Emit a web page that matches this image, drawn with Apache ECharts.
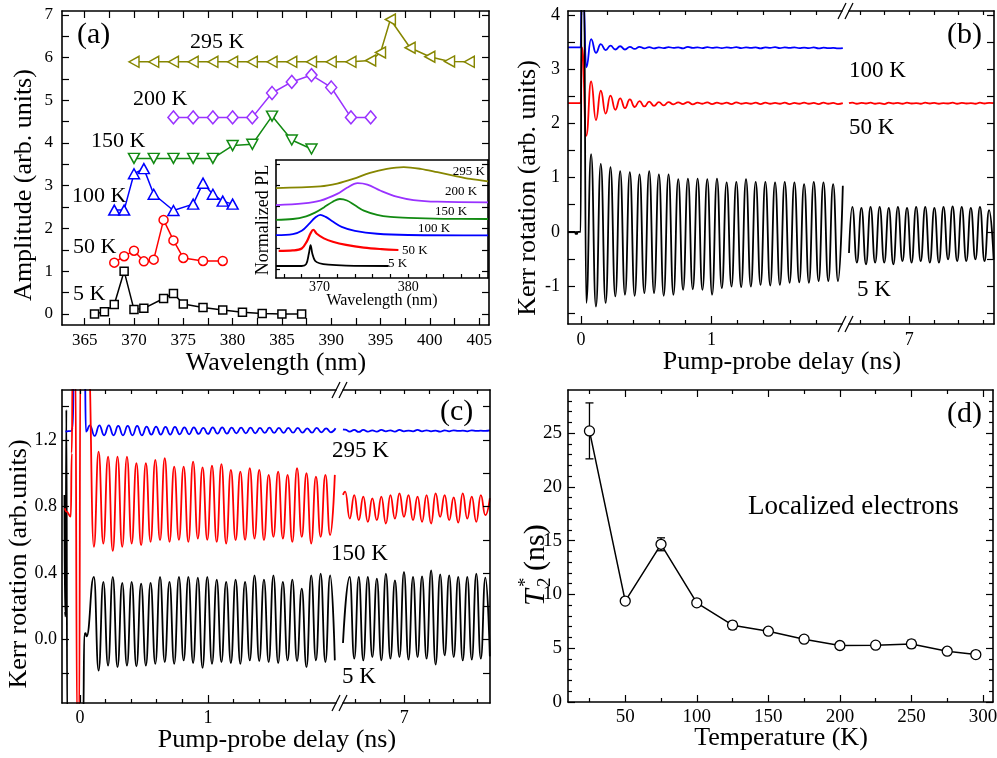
<!DOCTYPE html>
<html>
<head>
<meta charset="utf-8">
<script src="https://cdn.jsdelivr.net/npm/echarts@6/dist/echarts.min.js"></script>
<style>
  html, body { margin: 0; padding: 0; background: #fff; }
  #chart { width: 997px; height: 758px; }
</style>
</head>
<body>
<div id="chart"></div>
<script>
const FONT = "'Liberation Serif', 'Times New Roman', serif";

// ---------- (a) spin-beat amplitude vs excitation wavelength ----------
const wl5K    = [366, 367, 368, 369, 370, 371, 373, 374, 375, 377, 379, 381, 383, 385, 387];
const amp5K   = [0.00, 0.05, 0.22, 1.00, 0.10, 0.13, 0.36, 0.48, 0.23, 0.15, 0.09, 0.04, 0.01, 0.00, 0.00];
const wl50K   = [368, 369, 370, 371, 372, 373, 374, 375, 377, 379];
const amp50K  = [1.20, 1.35, 1.48, 1.23, 1.27, 2.20, 1.72, 1.31, 1.24, 1.24];
const wl100K  = [368, 369, 370, 371, 372, 374, 376, 377, 378, 379, 380];
const amp100K = [2.43, 2.43, 3.28, 3.40, 2.80, 2.42, 2.57, 3.06, 2.80, 2.64, 2.57];
const wl150K  = [370, 372, 374, 376, 378, 380, 382, 384, 386, 388];
const amp150K = [3.64, 3.64, 3.64, 3.64, 3.64, 3.94, 3.97, 4.63, 4.07, 3.86];
const wl200K  = [374, 376, 378, 380, 382, 384, 386, 388, 390, 392, 394];
const amp200K = [4.60, 4.60, 4.60, 4.60, 4.60, 5.17, 5.43, 5.59, 5.30, 4.60, 4.60];
const wl295K  = [370, 372, 374, 376, 378, 380, 382, 384, 386, 388, 390, 392, 394, 395, 396, 398, 400, 402, 404];
const amp295K = [5.90, 5.90, 5.90, 5.90, 5.90, 5.90, 5.90, 5.90, 5.90, 5.90, 5.90, 5.90, 5.93, 6.12, 6.89, 6.23, 6.02, 5.91, 5.90];

const aXLabels = [365, 370, 375, 380, 385, 390, 395, 400, 405];
const aXTicks  = [365, 367.5, 370, 372.5, 375, 377.5, 380, 382.5, 385, 387.5, 390, 392.5, 395, 397.5, 400, 402.5, 405];
const aYLabels = [0, 1, 2, 3, 4, 5, 6, 7];
const aYTicks  = [0, 0.5, 1, 1.5, 2, 2.5, 3, 3.5, 4, 4.5, 5, 5.5, 6, 6.5, 7];

// inset: normalized PL spectra (offset), [wavelength nm, value]
const pl5K   = [[365.1, 0.57], [368.0, 0.57], [368.5, 0.66], [368.8, 1.15], [369.0, 1.56], [369.2, 1.15], [369.5, 0.82], [370.0, 0.70], [371.0, 0.63], [373.0, 0.59], [377.8, 0.57]];
const pl50K  = [[365.4, 1.29], [367.0, 1.31], [368.0, 1.40], [368.6, 1.75], [369.0, 2.12], [369.3, 2.29], [369.7, 2.10], [370.5, 1.88], [371.5, 1.72], [373.0, 1.57], [375.0, 1.44], [377.0, 1.37], [378.9, 1.33]];
const pl100K = [[365.1, 2.03], [367.0, 2.08], [368.0, 2.24], [368.8, 2.56], [369.5, 2.86], [370.1, 3.00], [370.7, 2.90], [371.5, 2.68], [372.5, 2.43], [374.0, 2.24], [376.5, 2.10], [380.0, 2.04], [389.0, 2.02]];
const pl150K = [[365.1, 2.76], [367.0, 2.80], [368.5, 2.93], [369.5, 3.10], [370.5, 3.35], [371.5, 3.62], [372.3, 3.75], [373.1, 3.68], [374.0, 3.45], [375.0, 3.20], [376.5, 3.00], [378.0, 2.90], [380.0, 2.85], [384.0, 2.81], [389.0, 2.80]];
const pl200K = [[365.1, 3.46], [368.2, 3.54], [370.1, 3.67], [372.0, 3.99], [373.1, 4.28], [374.3, 4.50], [375.4, 4.43], [376.9, 4.14], [378.7, 3.86], [380.6, 3.70], [383.3, 3.62], [389.0, 3.59]];
const pl295K = [[365.1, 4.27], [370.1, 4.35], [372.0, 4.48], [373.8, 4.70], [375.7, 4.99], [377.6, 5.18], [379.5, 5.26], [381.4, 5.18], [383.3, 5.02], [385.1, 4.86], [387.0, 4.70], [389.0, 4.59]];
const inXLabels = [370, 380];
const inXTicks  = [366, 368, 370, 372, 374, 376, 378, 380, 382, 384, 386, 388];
const inYTicks  = [0.4, 1.4, 2.4, 3.4, 4.4, 5.4];

// ---------- (b) Kerr rotation transients, 5 / 50 / 100 K ----------
// leading parts as [delay ns, value]; oscillations listed extremum by extremum
const bFirst = 0.040, bHalf = 0.0371, bLateFirst = 6.537;
const kerrB5Lead = [[-0.10, 0], [-0.046, 0], [-0.041, -0.04], [-0.036, 0], [-0.031, -0.04], [-0.026, 0], [-0.003, 0], [0.004, 4.6], [0.022, 4.6]];
const kerrB5Early = [-1.31, 1.43, -1.38, 1.25, -1.31, 1.19, -1.19, 1.12, -1.16, 1.10, -1.18, 1.06, -1.13, 1.12, -1.13, 1.06, -1.18, 1.06,
  -1.16, 0.97, -1.07, 0.98, -1.06, 0.98, -1.07, 0.97, -1.16, 0.98, -1.04, 0.91, -1.01, 0.92, -1.02, 0.97, -1.01, 0.92,
  -0.98, 0.92, -0.99, 0.91, -0.98, 0.92, -0.94, 0.91, -0.93, 0.88, -0.94, 0.92, -0.91, 0.91, -0.91, 0.88, -0.91, 0.85];
const kerrB5LateLead = [[6.51, -0.39]];
const kerrB5Late = [0.46, -0.57, 0.44, -0.60, 0.46, -0.57, 0.46, -0.57, 0.44, -0.60, 0.46, -0.54, 0.44, -0.57, 0.46, -0.54,
  0.46, -0.57, 0.44, -0.57, 0.46, -0.51, 0.47, -0.54, 0.46, -0.54, 0.44, -0.51, 0.46, -0.54, 0.40, -0.51];

const kerrB50Lead = [[-0.10, 2.37], [-0.003, 2.37], [0.008, 3.40]];
const kerrB50Early = [1.77, 2.77, 2.06, 2.60, 2.18, 2.51, 2.25, 2.46, 2.28, 2.44, 2.30, 2.41, 2.31, 2.40, 2.32, 2.39, 2.33, 2.39,
  2.35, 2.385, 2.355, 2.39, 2.35, 2.38, 2.36, 2.385, 2.355, 2.38, 2.36, 2.38, 2.355, 2.385, 2.36, 2.375, 2.36, 2.38,
  2.355, 2.38, 2.36, 2.375, 2.36, 2.38, 2.355, 2.375, 2.36, 2.38, 2.36, 2.375, 2.355, 2.38, 2.36, 2.375, 2.355, 2.37];
const kerrB50LateLead = [[6.51, 2.37]];
const kerrB50Late = [2.38, 2.36, 2.375, 2.365, 2.38, 2.36, 2.37, 2.355, 2.38, 2.365, 2.375, 2.36, 2.38, 2.365, 2.37, 2.36,
  2.38, 2.365, 2.375, 2.36, 2.37, 2.365, 2.38, 2.36, 2.375, 2.365, 2.37, 2.36, 2.38, 2.365, 2.375, 2.37];

const kerrB100Lead = [[-0.10, 3.40], [-0.003, 3.40], [0.005, 4.4], [0.017, 4.4]];
const kerrB100Early = [3.03, 3.55, 3.30, 3.46, 3.35, 3.43, 3.36, 3.42, 3.36, 3.41, 3.37, 3.41, 3.38, 3.405, 3.38, 3.40,
  3.385, 3.405, 3.39, 3.40, 3.38, 3.41, 3.39, 3.40, 3.385, 3.405, 3.39, 3.40, 3.385, 3.40, 3.39, 3.405, 3.385, 3.40,
  3.39, 3.40, 3.38, 3.40, 3.39, 3.405, 3.385, 3.40, 3.39, 3.40, 3.385, 3.395, 3.385, 3.40, 3.38, 3.395, 3.385, 3.39, 3.38, 3.385];

const bYLabels = [-1, 0, 1, 2, 3, 4];
const bYTicks  = [-1.5, -1, -0.5, 0, 0.5, 1, 1.5, 2, 2.5, 3, 3.5, 4];

// ---------- (c) Kerr rotation transients, 5 / 150 / 295 K ----------
const cFirst = 0.109, cHalf = 0.0369, cLateFirst = 6.555, c295First = 0.078, cLateRedFirst = 6.518;
const kerrC5Lead = [[-0.121, 0.87], [-0.117, 0.17], [-0.112, 0.14], [-0.106, 1.38], [-0.099, -0.5], [0.026, -0.5], [0.034, 0.03], [0.044, 0.04], [0.052, 0.02]];
const kerrC5Early = [0.377, -0.185, 0.347, -0.155, 0.377, -0.165, 0.341, -0.155, 0.347, -0.160, 0.337, -0.155, 0.341, -0.145,
  0.377, -0.134, 0.347, -0.145, 0.377, -0.124, 0.377, -0.140, 0.373, -0.169, 0.377, -0.145, 0.361, -0.134, 0.347, -0.140,
  0.361, -0.145, 0.347, -0.124, 0.387, -0.128, 0.361, -0.134, 0.387, -0.140, 0.347, -0.124, 0.361, -0.128, 0.307, -0.165,
  0.387, -0.124, 0.397, -0.134, 0.387, -0.124];
const kerrC5LateLead = [[6.50, -0.02]];
const kerrC5Late = [0.377, -0.114, 0.377, -0.124, 0.377, -0.104, 0.367, -0.124, 0.397, -0.114, 0.357, -0.104, 0.407, -0.120,
  0.377, -0.104, 0.381, -0.114, 0.417, -0.149, 0.393, -0.094, 0.387, -0.104, 0.377, -0.124, 0.377, -0.120, 0.397, -0.114, 0.373, -0.100];

const kerrC150Lead = [[-0.118, 0.79], [-0.105, 0.77], [-0.071, 0.74], [-0.064, 1.12], [-0.056, 1.7], [-0.036, 1.7], [-0.022, -0.5], [-0.006, -0.5], [0.004, 1.7], [0.066, 1.7]];
const kerrC150Early = [0.558, 1.13, 0.578, 1.10, 0.534, 1.10, 0.558, 1.10, 0.578, 1.06, 0.568, 1.06, 0.588, 1.08, 0.598, 1.09,
  0.588, 1.04, 0.600, 1.04, 0.588, 1.07, 0.608, 1.035, 0.600, 1.045, 0.588, 1.055, 0.578, 1.02, 0.598, 1.01, 0.600, 1.03,
  0.608, 1.02, 0.598, 0.99, 0.618, 1.01, 0.608, 0.99, 0.588, 1.03, 0.618, 1.00, 0.578, 0.98, 0.618, 0.99, 0.628, 0.99];
const kerrC150LateLead = [[6.50, 0.87]];
const kerrC150Late = [0.89, 0.728, 0.869, 0.718, 0.859, 0.708, 0.849, 0.718, 0.859, 0.698, 0.869, 0.728, 0.879, 0.738, 0.869, 0.718,
  0.859, 0.708, 0.869, 0.698, 0.879, 0.738, 0.869, 0.718, 0.855, 0.704, 0.879, 0.728, 0.859, 0.708, 0.869, 0.748, 0.85];

const kerrC295Lead = [[-0.113, 1.25], [-0.066, 1.255], [-0.056, 1.275], [-0.046, 1.7], [0.037, 1.7], [0.047, 1.25]];
const kerrC295Early = [1.288, 1.224, 1.288, 1.228, 1.288, 1.228, 1.284, 1.228, 1.284, 1.228, 1.284, 1.228, 1.280, 1.232, 1.280, 1.232,
  1.278, 1.232, 1.278, 1.234, 1.276, 1.234, 1.276, 1.236, 1.272, 1.236, 1.276, 1.238, 1.276, 1.238, 1.274, 1.240, 1.274, 1.240,
  1.274, 1.240, 1.272, 1.242, 1.274, 1.242, 1.272, 1.242, 1.272, 1.244, 1.272, 1.244, 1.270, 1.244, 1.272, 1.246, 1.270, 1.246, 1.270];
const kerrC295LateLead = [[6.50, 1.264]];
const kerrC295Late = [1.262, 1.250, 1.260, 1.248, 1.260, 1.250, 1.258, 1.250, 1.260, 1.252, 1.258, 1.250, 1.260, 1.252, 1.256, 1.252,
  1.260, 1.252, 1.258, 1.252, 1.256, 1.250, 1.258, 1.252, 1.258, 1.254, 1.256, 1.252, 1.258, 1.254, 1.256, 1.254, 1.257];

const cYLabels = [0, 0.4, 0.8, 1.2];
const cYTicks  = [-0.2, 0, 0.2, 0.4, 0.6, 0.8, 1.0, 1.2, 1.4];

// delay axis ticks shared by (b) and (c)
const delayEarlyLabels = [0, 1];
const delayEarlyMinor  = [0.2, 0.4, 0.6, 0.8, 1.2, 1.4, 1.6, 1.8];
const delayEarlyAll    = [0, 0.2, 0.4, 0.6, 0.8, 1.0, 1.2, 1.4, 1.6, 1.8];
const delayLateLabels  = [7];
const delayLateMinor   = [6.6, 6.8, 7.2, 7.4, 7.6];
const delayLateAll     = [6.6, 6.8, 7.0, 7.2, 7.4, 7.6];

// ---------- (d) T2* vs temperature ----------
const tempK  = [25, 50, 75, 100, 125, 150, 175, 200, 225, 250, 275, 295];
const t2star = [25.2, 9.38, 14.66, 9.22, 7.14, 6.58, 5.84, 5.25, 5.28, 5.40, 4.72, 4.41];
const t2err  = [2.6, 0.2, 0.6, 0.2, 0.35, 0.2, 0.3, 0.15, 0.15, 0.35, 0.25, 0.15];
const dXLabels = [50, 100, 150, 200, 250, 300];
const dXMinor  = [25, 75, 125, 175, 225, 275];
const dYLabels = [0, 5, 10, 15, 20, 25];
const dYMinor  = [1, 2, 3, 4, 6, 7, 8, 9, 11, 12, 13, 14, 16, 17, 18, 19, 21, 22, 23, 24, 26, 27, 28];

// colours
const BLACK = '#000000', RED = '#ff0000', BLUE = '#0000ff', GREEN = '#128a12', PURPLE = '#9932ff', OLIVE = '#868600';

// ---------- layout ----------
const G = {
  a:  { left: 62,  top: 11,  width: 427, height: 314 },
  ai: { left: 276, top: 160, width: 212, height: 118 },
  b1: { left: 568, top: 11,  width: 274, height: 313 },
  b2: { left: 849, top: 11,  width: 145, height: 313 },
  c1: { left: 62,  top: 390, width: 274, height: 313 },
  c2: { left: 343, top: 390, width: 147, height: 313 },
  d:  { left: 568, top: 390, width: 425, height: 312 }
};
const gridOrder = ['a', 'ai', 'b1', 'b2', 'c1', 'c2', 'd'];
const gi = k => gridOrder.indexOf(k);

const xAxis = [], yAxis = [];
function addAxis(list, grid, pos, min, max, o) {
  list.push({
    type: 'value', gridIndex: gi(grid), position: pos, min, max, offset: 0,
    axisLine: { show: !!o.line, onZero: false, lineStyle: { color: '#000', width: 1.6 } },
    axisTick: { show: !!o.ticks, inside: true, length: o.len || 7, customValues: o.ticks, lineStyle: { color: '#000', width: 1.2 } },
    axisLabel: {
      show: !!o.labels, customValues: o.labels, color: '#000', fontFamily: FONT,
      fontSize: o.size || 18, margin: o.margin == null ? 8 : o.margin,
      formatter: o.fmt || (v => String(v))
    },
    splitLine: { show: false }, minorTick: { show: false }, axisPointer: { show: false }, silent: true, z: 5
  });
  return list.length - 1;
}

// (a) main
const aX = addAxis(xAxis, 'a', 'bottom', 362.7, 406, { line: true, ticks: aXTicks, labels: aXLabels, size: 17, margin: 7 });
addAxis(xAxis, 'a', 'top', 362.7, 406, { line: true, ticks: aXTicks });
const aY = addAxis(yAxis, 'a', 'left', -0.26, 7.09, { line: true, ticks: aYTicks, labels: aYLabels, size: 17, margin: 9 });
addAxis(yAxis, 'a', 'right', -0.26, 7.09, { line: true, ticks: aYTicks });
// inset
const inX = addAxis(xAxis, 'ai', 'bottom', 365.1, 389, { line: true, ticks: inXTicks, labels: inXLabels, size: 14, margin: 2, len: 4 });
addAxis(xAxis, 'ai', 'top', 365.1, 389, { line: true });
const inY = addAxis(yAxis, 'ai', 'left', 0, 5.6, { line: true, ticks: inYTicks, len: 4 });
addAxis(yAxis, 'ai', 'right', 0, 5.6, { line: true });

// broken delay axes: early + late segment per panel
function delayAxes(g1, g2, yMin, yMax, yLabels, yTicks, yFmt, yMargin, xMargin) {
  const seg1 = G[g1], seg2 = G[g2];
  const x1min = g1 === 'b1' ? -0.10 : -0.14, x1max = 2.0;
  const x2min = g1 === 'b1' ? 6.51 : 6.50, x2max = g1 === 'b1' ? 7.69 : 7.70;
  const x1 = addAxis(xAxis, g1, 'bottom', x1min, x1max, { line: true, ticks: delayEarlyLabels, labels: delayEarlyLabels, len: 8, margin: xMargin });
  addAxis(xAxis, g1, 'bottom', x1min, x1max, { ticks: delayEarlyMinor, len: 4 });
  addAxis(xAxis, g1, 'top', x1min, x1max, { line: true, ticks: delayEarlyAll, len: 4 });
  const y1 = addAxis(yAxis, g1, 'left', yMin, yMax, { line: true, ticks: yTicks, labels: yLabels, fmt: yFmt, margin: yMargin });
  const x2 = addAxis(xAxis, g2, 'bottom', x2min, x2max, { line: true, ticks: delayLateLabels, labels: delayLateLabels, len: 8, margin: xMargin });
  addAxis(xAxis, g2, 'bottom', x2min, x2max, { ticks: delayLateMinor, len: 4 });
  addAxis(xAxis, g2, 'top', x2min, x2max, { line: true, ticks: delayLateAll, len: 4 });
  const y2 = addAxis(yAxis, g2, 'right', yMin, yMax, { line: true, ticks: yTicks });
  return { x1, y1, x2, y2 };
}
const bAx = delayAxes('b1', 'b2', -1.7, 4.07, bYLabels, bYTicks, null, 8, 7);
const cAx = delayAxes('c1', 'c2', -0.38, 1.5, cYLabels, cYTicks, v => v.toFixed(1), 5, 6);

// (d)
const dX = addAxis(xAxis, 'd', 'bottom', 10, 307, { line: true, ticks: dXLabels, labels: dXLabels, margin: 6, size: 19 });
addAxis(xAxis, 'd', 'bottom', 10, 307, { ticks: dXMinor, len: 4 });
addAxis(xAxis, 'd', 'top', 10, 307, { line: true, ticks: dXLabels });
addAxis(xAxis, 'd', 'top', 10, 307, { ticks: dXMinor, len: 4 });
const dY = addAxis(yAxis, 'd', 'left', 0, 29, { line: true, ticks: dYLabels, labels: dYLabels, margin: 6, size: 19 });
addAxis(yAxis, 'd', 'left', 0, 29, { ticks: dYMinor, len: 4 });
addAxis(yAxis, 'd', 'right', 0, 29, { line: true, ticks: dYLabels });
addAxis(yAxis, 'd', 'right', 0, 29, { ticks: dYMinor, len: 4 });

// ---------- series ----------
const pairs = (xs, ys) => xs.map((x, i) => [x, ys[i]]);
const extrema = (first, step, vals) => vals.map((v, i) => [first + i * step, v]);

function ampSeries(wl, amp, color, symbol, size, rot) {
  return {
    type: 'line', xAxisIndex: aX, yAxisIndex: aY, data: pairs(wl, amp),
    symbol, symbolSize: size, symbolRotate: rot || 0, showAllSymbol: true,
    lineStyle: { color, width: 1.5 }, itemStyle: { color: '#fff', borderColor: color, borderWidth: 1.5 }, z: 4
  };
}
function plSeries(data, color, width) {
  return { type: 'line', xAxisIndex: inX, yAxisIndex: inY, data, symbol: 'none', smooth: 0.35,
    lineStyle: { color, width: width || 1.8 }, z: 6 };
}
function trace(ax, seg, data, color) {
  return {
    type: 'line', xAxisIndex: seg === 1 ? ax.x1 : ax.x2, yAxisIndex: seg === 1 ? ax.y1 : ax.y2,
    data, symbol: 'none', smooth: 0.5, smoothMonotone: 'x', clip: true,
    lineStyle: { color, width: 1.8 }, z: 3
  };
}

const series = [
  ampSeries(wl5K, amp5K, BLACK, 'rect', 8),
  ampSeries(wl50K, amp50K, RED, 'circle', 9),
  ampSeries(wl100K, amp100K, BLUE, 'triangle', [11, 10]),
  ampSeries(wl150K, amp150K, GREEN, 'triangle', [11, 10], 180),
  ampSeries(wl200K, amp200K, PURPLE, 'diamond', [11, 13]),
  ampSeries(wl295K, amp295K, OLIVE, 'triangle', [11, 10], 90),

  plSeries(pl295K, OLIVE), plSeries(pl200K, PURPLE), plSeries(pl150K, GREEN),
  plSeries(pl100K, BLUE), plSeries(pl50K, RED, 2.2), plSeries(pl5K, BLACK),

  trace(bAx, 1, kerrB100Lead.concat(extrema(bFirst, bHalf, kerrB100Early)), BLUE),
  trace(bAx, 1, kerrB50Lead.concat(extrema(bFirst, bHalf, kerrB50Early)), RED),
  trace(bAx, 1, kerrB5Lead.concat(extrema(bFirst, bHalf, kerrB5Early)), BLACK),
  trace(bAx, 2, kerrB50LateLead.concat(extrema(bLateFirst, bHalf, kerrB50Late)), RED),
  trace(bAx, 2, kerrB5LateLead.concat(extrema(bLateFirst, bHalf, kerrB5Late)), BLACK),

  trace(cAx, 1, kerrC5Lead.concat(extrema(cFirst, cHalf, kerrC5Early)), BLACK),
  trace(cAx, 1, kerrC295Lead.concat(extrema(c295First, cHalf, kerrC295Early)), BLUE),
  trace(cAx, 1, kerrC150Lead.concat(extrema(cFirst, cHalf, kerrC150Early)), RED),
  trace(cAx, 2, kerrC5LateLead.concat(extrema(cLateFirst, cHalf, kerrC5Late)), BLACK),
  trace(cAx, 2, kerrC150LateLead.concat(extrema(cLateRedFirst, cHalf, kerrC150Late)), RED),
  trace(cAx, 2, kerrC295LateLead.concat(extrema(cLateRedFirst, cHalf, kerrC295Late)), BLUE),

  {
    type: 'custom', xAxisIndex: dX, yAxisIndex: dY, z: 3,
    data: tempK.map((t, i) => [t, t2star[i] - t2err[i], t2star[i] + t2err[i]]),
    renderItem: (params, api) => {
      const lo = api.coord([api.value(0), api.value(1)]);
      const hi = api.coord([api.value(0), api.value(2)]);
      const w = 4, st = { stroke: '#000', lineWidth: 1.3 };
      return { type: 'group', children: [
        { type: 'line', shape: { x1: lo[0], y1: lo[1], x2: hi[0], y2: hi[1] }, style: st },
        { type: 'line', shape: { x1: lo[0] - w, y1: lo[1], x2: lo[0] + w, y2: lo[1] }, style: st },
        { type: 'line', shape: { x1: hi[0] - w, y1: hi[1], x2: hi[0] + w, y2: hi[1] }, style: st }
      ] };
    }
  },
  {
    type: 'line', xAxisIndex: dX, yAxisIndex: dY, data: pairs(tempK, t2star),
    symbol: 'circle', symbolSize: 10, showAllSymbol: true, z: 4,
    lineStyle: { color: '#000', width: 1.5 }, itemStyle: { color: '#fff', borderColor: '#000', borderWidth: 1.3 }
  }
];

// ---------- text & decorations ----------
function txt(x, y, text, size, o) {
  o = o || {};
  const align = o.align || 'left';
  return {
    type: 'text', x, y, rotation: o.rot || 0, silent: true, z: 100,
    style: {
      text, fontFamily: FONT, fontSize: size, fontStyle: o.italic ? 'italic' : 'normal', fill: o.color || '#000',
      align, verticalAlign: 'middle', textAlign: align, textVerticalAlign: 'middle'
    }
  };
}
const R90 = Math.PI / 2;
function breakMarks(g1, g2) {
  const cx = (G[g1].left + G[g1].width + G[g2].left) / 2;
  const ys = [G[g1].top, G[g1].top + G[g1].height];
  const els = [];
  ys.forEach(y => [-3.5, 3.5].forEach(dx => els.push({
    type: 'line', silent: true, z: 100,
    shape: { x1: cx + dx - 4, y1: y + 8, x2: cx + dx + 4, y2: y - 8 },
    style: { stroke: '#000', lineWidth: 1.3 }
  })));
  return els;
}

const graphic = [
  // axis titles
  txt(24, 185, 'Amplitude (arb. units)', 26, { rot: R90, align: 'center' }),
  txt(276, 363, 'Wavelength (nm)', 26, { align: 'center' }),
  txt(528, 188, 'Kerr rotation (arb. units)', 26, { rot: R90, align: 'center' }),
  txt(782, 362, 'Pump-probe delay (ns)', 26, { align: 'center' }),
  txt(19, 564, 'Kerr rotation (arb.units)', 26, { rot: R90, align: 'center' }),
  txt(277, 740, 'Pump-probe delay (ns)', 26, { align: 'center' }),
  txt(781, 738, 'Temperature (K)', 26, { align: 'center' }),
  {
    type: 'group', x: 536, y: 606, rotation: R90, silent: true, z: 100,
    children: [
      { type: 'text', x: 0, y: 0, style: { text: 'T', fontFamily: FONT, fontSize: 30, fontStyle: 'italic', fill: '#000', align: 'left', verticalAlign: 'middle' } },
      { type: 'text', x: 19, y: -10, style: { text: '*', fontFamily: FONT, fontSize: 19, fill: '#000', align: 'left', verticalAlign: 'middle' } },
      { type: 'text', x: 19, y: 9, style: { text: '2', fontFamily: FONT, fontSize: 19, fill: '#000', align: 'left', verticalAlign: 'middle' } },
      { type: 'text', x: 35, y: 0, style: { text: '(ns)', fontFamily: FONT, fontSize: 30, fill: '#000', align: 'left', verticalAlign: 'middle' } }
    ]
  },
  // inset titles
  txt(382, 301, 'Wavelength (nm)', 16, { align: 'center' }),
  txt(263, 220, 'Normalized PL', 18, { rot: R90, align: 'center' }),
  // panel letters
  txt(77, 35, '(a)', 30), txt(947, 35, '(b)', 30), txt(440, 412, '(c)', 30), txt(947, 414, '(d)', 30),
  // (a) temperatures
  txt(190, 42, '295 K', 22), txt(133, 99, '200 K', 22), txt(91, 141, '150 K', 22),
  txt(72, 196, '100 K', 22), txt(73, 247, '50 K', 22), txt(73, 294, '5 K', 22),
  // inset temperatures
  txt(485, 172, '295 K', 13, { align: 'right' }), txt(445, 192, '200 K', 13), txt(435, 212, '150 K', 13),
  txt(418, 229, '100 K', 13), txt(402, 251, '50 K', 13), txt(388, 264, '5 K', 13),
  // (b), (c), (d) annotations
  txt(849, 71, '100 K', 23), txt(849, 128, '50 K', 23), txt(857, 290, '5 K', 23),
  txt(332, 451, '295 K', 23), txt(331, 554, '150 K', 23), txt(342, 677, '5 K', 23),
  txt(748, 507, 'Localized electrons', 27)
].concat(breakMarks('b1', 'b2'), breakMarks('c1', 'c2'));

const chart = echarts.init(document.getElementById('chart'), null, { renderer: 'canvas', width: 997, height: 758 });
chart.setOption({
  backgroundColor: '#fff',
  animation: false,
  textStyle: { fontFamily: FONT },
  grid: gridOrder.map(k => Object.assign({
    show: k === 'ai', backgroundColor: '#fff', borderWidth: 0,
    containLabel: false, outerBoundsMode: 'none'
  }, G[k])),
  xAxis, yAxis, series, graphic
});
</script>
</body>
</html>
